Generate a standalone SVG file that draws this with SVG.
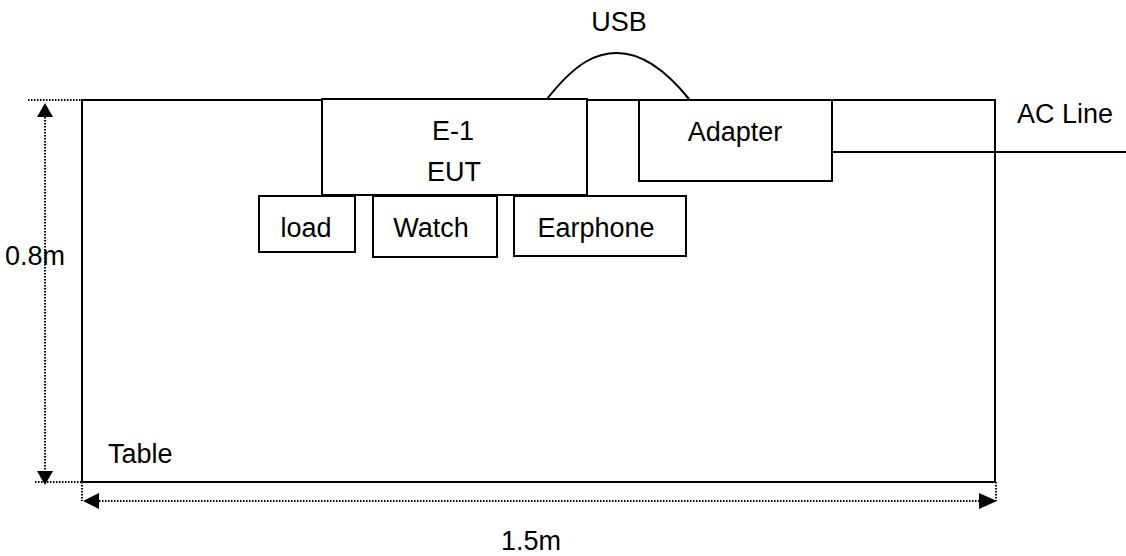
<svg xmlns="http://www.w3.org/2000/svg" width="1126" height="556" viewBox="0 0 1126 556">
<defs>
<style>
.box{fill:#fff;stroke:#000;stroke-width:2}
.ln{fill:none;stroke:#000;stroke-width:2}
.dot{fill:none;stroke:#000;stroke-width:2;stroke-dasharray:1.5 1.5}
.t{font-family:"Liberation Sans",Arial,sans-serif;font-size:27px;fill:#000}
.c{text-anchor:middle}
.ah{fill:#000;stroke:none}
</style>
</defs>
<rect width="1126" height="556" fill="#fff"/>
<g id="table">
<rect class="box" x="82" y="100" width="913" height="382"/>
<text class="t" x="108" y="463">Table</text>
</g>
<g id="connectors">
<path class="ln" d="M547,99 C577,61 597,53 617,53 S660,63 689,99"/>
<line class="ln" x1="832" y1="152" x2="1126" y2="152"/>
</g>
<g id="eut">
<rect class="box" x="322" y="99" width="265" height="96"/>
<text class="t c" x="453" y="140">E-1</text>
<text class="t c" x="454" y="181">EUT</text>
</g>
<g id="adapter">
<rect class="box" x="639" y="100" width="193" height="81"/>
<text class="t c" x="735" y="141">Adapter</text>
</g>
<g id="load">
<rect class="box" x="259" y="196" width="96" height="56"/>
<text class="t c" x="306" y="237">load</text>
</g>
<g id="watch">
<rect class="box" x="373" y="196" width="124" height="61"/>
<text class="t c" x="431" y="237">Watch</text>
</g>
<g id="earphone">
<rect class="box" x="514" y="196" width="172" height="60"/>
<text class="t c" x="596" y="237">Earphone</text>
</g>
<g id="labels">
<text class="t c" x="619" y="31">USB</text>
<text class="t" x="1017" y="123">AC Line</text>
</g>
<g id="dimensions">
<line class="dot" x1="28" y1="100" x2="82" y2="100"/>
<line class="dot" x1="35" y1="482" x2="105" y2="482"/>
<line class="dot" x1="45" y1="117" x2="45" y2="471"/>
<polygon class="ah" points="45,103 37,117 53,117"/>
<polygon class="ah" points="45,485 37,471 53,471"/>
<line class="dot" x1="82" y1="482" x2="82" y2="501"/>
<line class="dot" x1="996" y1="482" x2="996" y2="501"/>
<line class="dot" x1="99" y1="501" x2="979" y2="501"/>
<polygon class="ah" points="83,501 99,493 99,509"/>
<polygon class="ah" points="997,501 979,493 979,509"/>
<text class="t" x="5" y="265">0.8m</text>
<text class="t" x="501" y="550">1.5m</text>
</g>
</svg>
